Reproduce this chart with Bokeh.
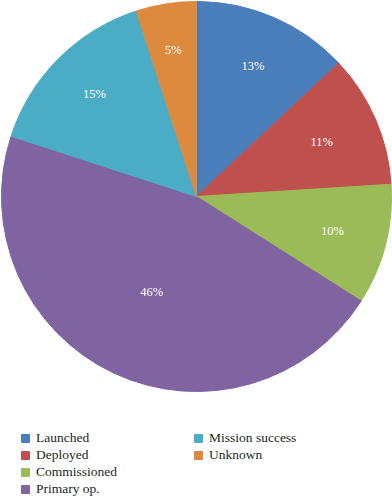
import numpy as np
from bokeh.plotting import figure
from bokeh.models import Range1d, ColumnDataSource, Legend, LegendItem
from bokeh.embed import file_html
from bokeh.resources import INLINE
from bokeh.core.properties import value

# ---- data ----
categories = ["Launched", "Deployed", "Commissioned", "Primary op.", "Mission success", "Unknown"]
shares = [13, 11, 10, 46, 15, 5]
labels = ["13%", "11%", "10%", "46%", "15%", "5%"]

# ---- style ----
colors = ["#4a7ebb", "#c0504d", "#9bbb59", "#8064a2", "#4bacc6", "#de8a3e"]
label_radius = [0.73, 0.70, 0.72, 0.54, 0.74, 0.76]

W, H = 392, 500
p = figure(width=W, height=H, output_backend="svg", toolbar_location=None,
           x_range=Range1d(0, W), y_range=Range1d(-H, 0), min_border=0)
p.axis.visible = False
p.grid.visible = False
p.outline_line_color = None

cx, cy, R = 196, -196, 195
frac = np.array(shares, dtype=float) / sum(shares)
cum = np.concatenate([[0], np.cumsum(frac)])
start = np.pi / 2 - 2 * np.pi * cum[1:]
end = np.pi / 2 - 2 * np.pi * cum[:-1]
mid = (start + end) / 2
lr = np.array(label_radius) * R

src = ColumnDataSource(dict(cat=categories, start=start, end=end, color=colors,
                            lx=cx + lr * np.cos(mid), ly=cy + lr * np.sin(mid), lab=labels))

wr = p.wedge(x=cx, y=cy, radius=R, start_angle="start", end_angle="end",
             fill_color="color", line_color="color", line_width=1, source=src)

p.text(x="lx", y="ly", text="lab", source=src, text_color="white",
       text_font=value("Liberation Serif"), text_font_size="12.5px",
       text_align="center", text_baseline="middle")

def make_legend(idx, loc):
    items = [LegendItem(label=categories[i], renderers=[wr], index=i) for i in idx]
    leg = Legend(items=items, location=loc, orientation="vertical",
                 label_text_font="Liberation Serif", label_text_font_size="13.5px",
                 label_text_color="#231f20", glyph_width=10, glyph_height=10,
                 label_standoff=6, spacing=1, padding=0, margin=0,
                 border_line_color=None, background_fill_alpha=0,
                 label_height=14, label_text_baseline="middle")
    return leg

p.add_layout(make_legend([0, 1, 2, 3], (20, 3)))
p.add_layout(make_legend([4, 5], (193, 37)))

open("out.html", "w").write(file_html(p, INLINE))
